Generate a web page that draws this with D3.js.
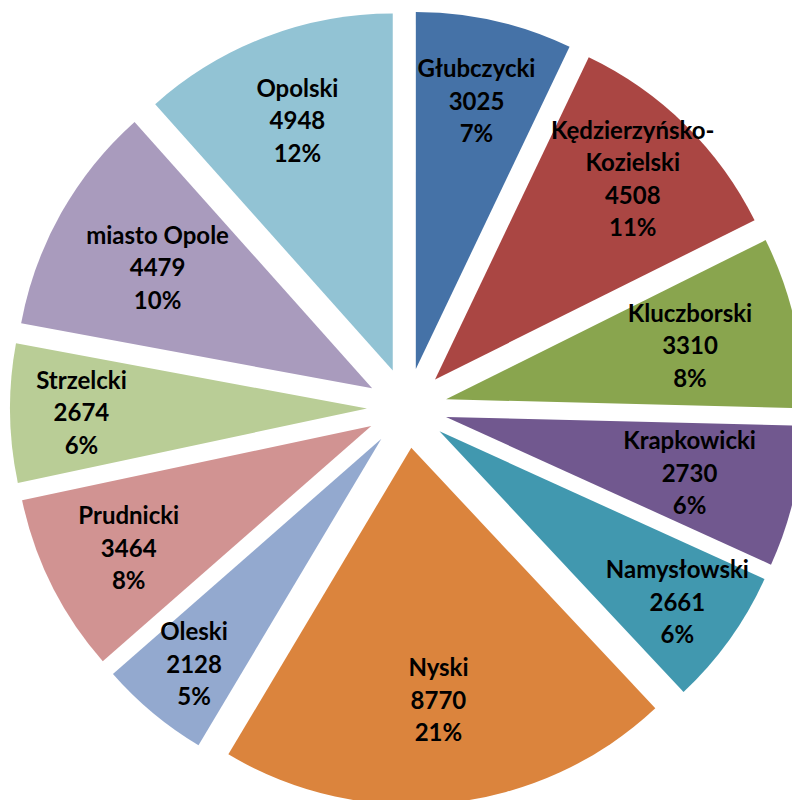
<!DOCTYPE html>
<html>
<head>
<meta charset="utf-8">
<script src="https://cdn.jsdelivr.net/npm/d3@7"></script>
<style>
  body { margin: 0; background: #fff; }
  .lbl { font-family: Lato, "Open Sans", sans-serif; font-weight: bold; font-size: 24px; fill: #000; }
</style>
</head>
<body>
<div id="chart"></div>
<script>
var width = 792,
    height = 800;

// data
var names = ["Głubczycki", "Kędzierzyńsko-\nKozielski", "Kluczborski", "Krapkowicki", "Namysłowski",
             "Nyski", "Oleski", "Prudnicki", "Strzelcki", "miasto Opole", "Opolski"];
var values = [3025, 4508, 3310, 2730, 2661, 8770, 2128, 3464, 2674, 4479, 4948];
var percents = ["7%", "11%", "8%", "6%", "6%", "21%", "5%", "8%", "6%", "10%", "12%"];

var colors = ["#4572A7", "#AA4643", "#89A54E", "#71588F", "#4198AF", "#DB843D",
              "#93A9CF", "#D19392", "#B9CD96", "#A99BBD", "#92C3D4"];

// layout: where excel's "best fit" put each label, as fraction of radius
var labelRadius = [0.77, 0.79, 0.70, 0.70, 0.82, 0.71, 0.82, 0.76, 0.80, 0.69, 0.75];

var cx = 407, cy = 408,
    radius = 357,
    explode = 40,
    lineH = 32.5;

var svg = d3.select("#chart").append("svg")
    .attr("width", width)
    .attr("height", height);

var pie = d3.pie().sort(null).value(function(d) { return d; });
var arc = d3.arc().innerRadius(0).outerRadius(radius);

var slices = pie(values);

var g = svg.selectAll("g.slice")
    .data(slices)
  .enter().append("g")
    .attr("class", "slice")
    .attr("transform", function(d) {
      var a = (d.startAngle + d.endAngle) / 2;
      return "translate(" + (cx + explode * Math.sin(a)) + "," + (cy - explode * Math.cos(a)) + ")";
    });

g.append("path")
    .attr("d", arc)
    .attr("fill", function(d, i) { return colors[i]; });

g.each(function(d, i) {
  var a = (d.startAngle + d.endAngle) / 2,
      r = radius * labelRadius[i],
      lines = names[i].split("\n").concat([values[i], percents[i]]);
  var t = d3.select(this).append("text")
      .attr("class", "lbl")
      .attr("text-anchor", "middle")
      .attr("x", r * Math.sin(a))
      .attr("y", -r * Math.cos(a));
  lines.forEach(function(l, k) {
    t.append("tspan")
      .attr("x", r * Math.sin(a))
      .attr("dy", k == 0 ? (-(lines.length - 1) / 2 * lineH + 9) : lineH)
      .text(l);
  });
});
</script>
</body>
</html>
